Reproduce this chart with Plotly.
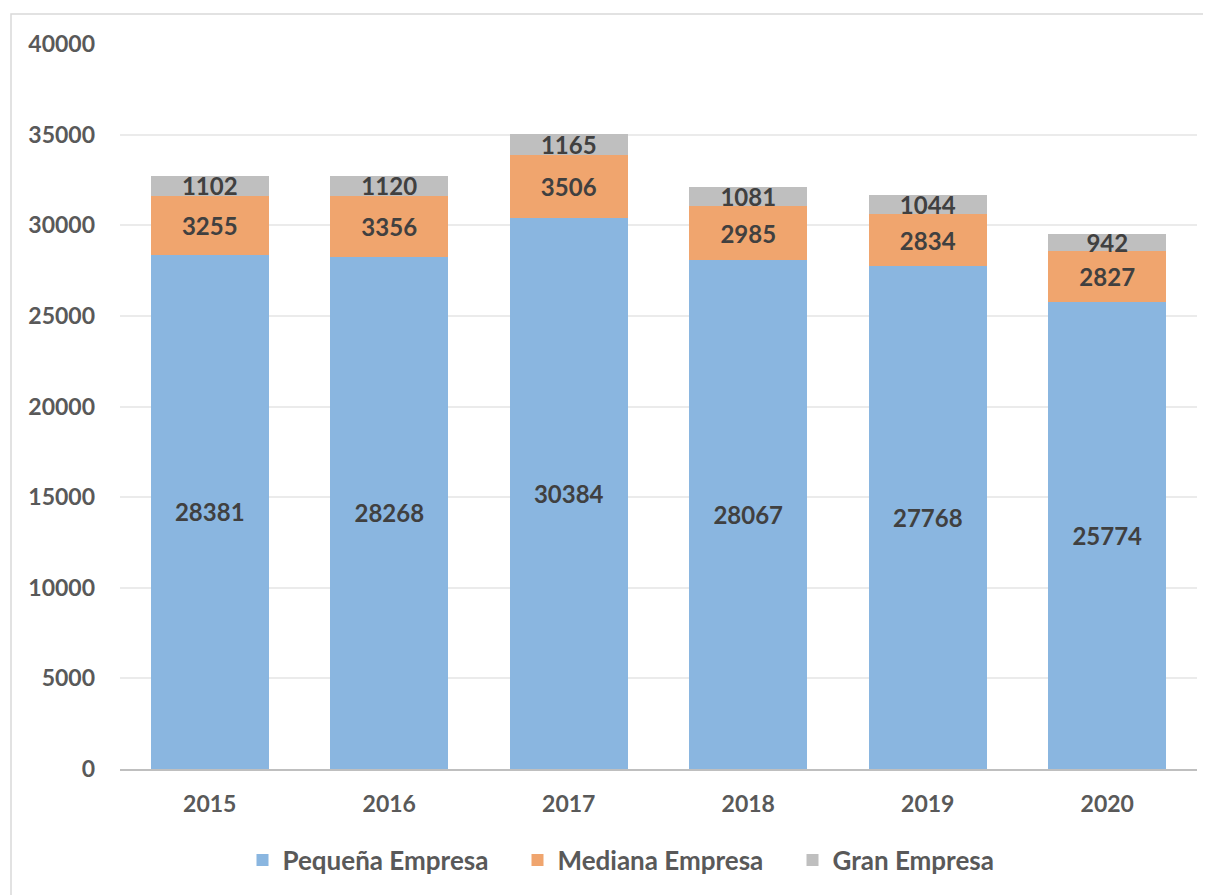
import plotly.graph_objects as go

years = ["2015", "2016", "2017", "2018", "2019", "2020"]
pequena = [28381, 28268, 30384, 28067, 27768, 25774]
mediana = [3255, 3356, 3506, 2985, 2834, 2827]
gran = [1102, 1120, 1165, 1081, 1044, 942]
y_ticks = [0, 5000, 10000, 15000, 20000, 25000, 30000, 35000, 40000]

W, H = 1211, 895
OFF = 8  # page offset of the figure
ml, mt = 120 - OFF, 44 - OFF
pw, ph = 1077, 725
mr, mb = W - ml - pw, H - mt - ph

FONT = "Lato"
label_font = dict(family=FONT, size=24, color="#404040", weight="bold")

series = [
    ("Pequeña Empresa", pequena, "#8AB6E0"),
    ("Mediana Empresa", mediana, "#F0A56E"),
    ("Gran Empresa", gran, "#BFBFBF"),
]

fig = go.Figure()
for name, vals, col in series:
    fig.add_trace(go.Bar(
        x=years, y=vals, name=name,
        marker=dict(color=col, line=dict(width=0)),
        text=[str(v) for v in vals],
        textposition="inside", insidetextanchor="middle",
        textfont=label_font, constraintext="none",
        cliponaxis=False,
    ))

# helpers: page pixel -> paper coords
def px_x(p):
    return (p - OFF - ml) / pw
def px_y(p):
    return (mt + ph - (p - OFF)) / ph

fig.add_shape(type="rect", xref="paper", yref="paper",
              x0=px_x(11), x1=px_x(1240), y0=px_y(920), y1=px_y(14),
              line=dict(color="#D9D9D9", width=1.5), fillcolor="rgba(0,0,0,0)", layer="below")

fig.update_layout(
    width=W, height=H,
    barmode="stack", bargap=0.34,
    paper_bgcolor="white", plot_bgcolor="white",
    margin=dict(l=ml, r=mr, t=mt, b=mb, autoexpand=False),
    font=dict(family=FONT, color="#595959"),
    uniformtext=dict(mode="show", minsize=24),
    showlegend=True,
    legend=dict(orientation="h", xanchor="center", x=px_x(655), yanchor="middle",
                y=px_y(860), font=dict(family=FONT, size=26, color="#595959", weight="bold"),
                itemsizing="constant", traceorder="normal", itemwidth=30,
                entrywidth=230, entrywidthmode="pixels",
                bgcolor="rgba(0,0,0,0)"),
    xaxis=dict(tickfont=dict(family=FONT, size=23, color="#595959", weight="bold"),
               showline=True, linecolor="#BFBFBF", linewidth=1.5, ticks="",
               showgrid=False, ticklabelstandoff=14),
    yaxis=dict(range=[0, 40000], tickvals=y_ticks, ticktext=[str(v) for v in y_ticks],
               tickfont=dict(family=FONT, size=23, color="#595959", weight="bold"),
               showgrid=True, gridcolor="#EBEBEB", gridwidth=1.5,
               zeroline=False, showline=False, ticks="", ticklabelstandoff=24),
)

fig.write_html("out.html")
